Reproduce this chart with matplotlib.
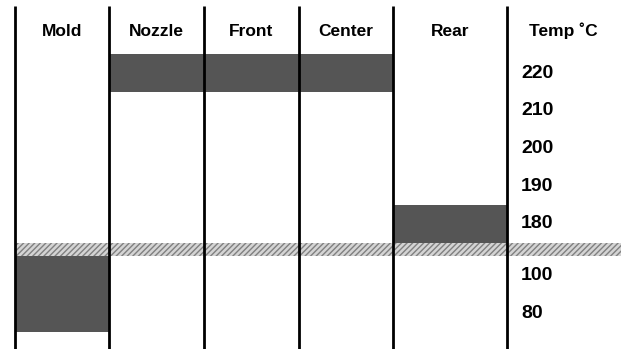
import matplotlib
matplotlib.use("Agg")
import matplotlib.pyplot as plt
import numpy as np

# column headers and the temperature band set for each zone
columns = ['Mold', 'Nozzle', 'Front', 'Center', 'Rear']
temp_low = [70, 215, 215, 215, 175]
temp_high = [110, 225, 225, 225, 185]
temp_ticks = [220, 210, 200, 190, 180, 100, 80]
break_low, break_high = 110, 175   # the cut in the temperature axis

plt.rcParams['font.family'] = ['Liberation Sans', 'DejaVu Sans']

# layout (pixels)
edges = [15, 109, 204, 299, 393, 507]


def fwd(t):
    t = np.asarray(t, dtype=float)
    upper = 73 + (220 - t) * 3.77
    lower = 275 + (100 - t) * 1.9
    y_hi = 73 + (220 - break_high) * 3.77
    y_lo = 275 + (100 - break_low) * 1.9
    mid = y_hi + (break_high - t) * (y_lo - y_hi) / (break_high - break_low)
    y = np.where(t >= break_high, upper, np.where(t <= break_low, lower, mid))
    return -y


def inv(p):
    y = -np.asarray(p, dtype=float)
    y_hi = 73 + (220 - break_high) * 3.77
    y_lo = 275 + (100 - break_low) * 1.9
    upper = 220 - (y - 73) / 3.77
    lower = 100 - (y - 275) / 1.9
    mid = break_high - (y - y_hi) * (break_high - break_low) / (y_lo - y_hi)
    return np.where(y <= y_hi, upper, np.where(y >= y_lo, lower, mid))


fig = plt.figure(figsize=(6.27, 3.49), dpi=100)
ax = fig.add_axes([0, 0, 1, 1])
ax.set_yscale('function', functions=(fwd, inv))
ax.set_xlim(0, 627)
ax.set_ylim(float(inv(-349)), float(inv(0)))
ax.axis('off')

# zone bars
for i, name in enumerate(columns):
    ax.bar(edges[i], temp_high[i] - temp_low[i], width=edges[i + 1] - edges[i],
           bottom=temp_low[i], align='edge', color='#555555', edgecolor='none',
           zorder=2)

# axis break band
ax.bar(15, break_high - break_low, width=621 - 15, bottom=break_low, align='edge',
       facecolor='#d4d4d4', edgecolor='#808080', hatch='//////', linewidth=0,
       zorder=3)

# column separators
top_t = float(inv(-6))
bot_t = float(inv(-349))
for x in edges:
    ax.plot([x, x], [bot_t, top_t], color='black', lw=2, zorder=4,
            solid_capstyle='butt')

# headers
centers = [(edges[i] + edges[i + 1]) / 2 for i in range(len(columns))]
head_t = float(inv(-31))
for c, name in zip(centers, columns):
    ax.text(c, head_t, name, ha='center', va='center', fontsize=12.5,
            fontweight='bold')
ax.text(563, head_t, 'Temp \u02daC', ha='center', va='center', fontsize=12.5,
        fontweight='bold')

for t in temp_ticks:
    ax.text(521, t, str(t), ha='left', va='center', fontsize=14,
            fontweight='bold')

fig.savefig('out.png', dpi=100)
